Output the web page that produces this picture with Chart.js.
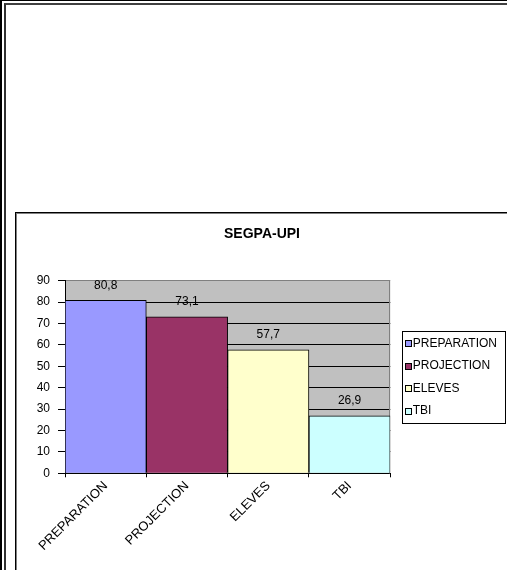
<!DOCTYPE html>
<html>
<head>
<meta charset="utf-8">
<script src="https://cdn.jsdelivr.net/npm/chart.js@4"></script>
<style>
  html, body { margin: 0; padding: 0; background: #fff; overflow: hidden; width: 507px; height: 570px; }
  .f { position: absolute; box-sizing: border-box; width: 700px; height: 700px; }
  #o1 { left: 0; top: 0; border-left: 2px solid #000; border-top: 1px solid #000; }
  #o2 { left: 4px; top: 3px; border-left: 2px solid #303030; border-top: 2px solid #404040; }
  #i1 { left: 15px; top: 212px; border-left: 1px solid #000; border-top: 1px solid #000; }
  #i2 { left: 16px; top: 213px; border-left: 1px solid #808080; border-top: 1px solid #808080; }
  #wrap { position: absolute; left: 17px; top: 215px; width: 490px; height: 355px; }
</style>
</head>
<body>
<div class="f" id="o1"></div>
<div class="f" id="o2"></div>
<div class="f" id="i1"></div>
<div class="f" id="i2"></div>
<div id="wrap"><canvas id="c"></canvas></div>
<script>
const categories = ['PREPARATION', 'PROJECTION', 'ELEVES', 'TBI'];
const values = [80.8, 73.1, 57.7, 26.9];
const barColors = ['#9999FF', '#993366', '#FFFFCC', '#CCFFFF'];
const yTicks = [0, 10, 20, 30, 40, 50, 60, 70, 80, 90];
const chartTitle = 'SEGPA-UPI';

const FONT = '"Liberation Sans", Arial, sans-serif';
const LEG_FONT = 12;
const LEG_BOX = 6;

const plotBg = {
  id: 'plotBg',
  beforeDraw(chart) {
    const a = chart.chartArea, ctx = chart.ctx;
    ctx.save();
    ctx.fillStyle = '#C0C0C0';
    ctx.fillRect(a.left, a.top, a.right - a.left, a.bottom - a.top);
    ctx.restore();
  },
  beforeDatasetsDraw(chart) {
    const a = chart.chartArea, ctx = chart.ctx;
    ctx.save();
    ctx.strokeStyle = '#808080';
    ctx.lineWidth = 1;
    ctx.beginPath();
    ctx.moveTo(Math.round(a.right) - 0.5, a.top);
    ctx.lineTo(Math.round(a.right) - 0.5, a.bottom);
    ctx.stroke();
    ctx.restore();
  }
};

const valueLabels = {
  id: 'valueLabels',
  afterDatasetsDraw(chart) {
    const ctx = chart.ctx;
    const meta = chart.getDatasetMeta(0);
    ctx.save();
    ctx.font = '12px ' + FONT;
    ctx.fillStyle = '#000';
    ctx.textAlign = 'center';
    ctx.textBaseline = 'middle';
    meta.data.forEach((bar, i) => {
      const txt = String(values[i]).replace('.', ',');
      ctx.fillText(txt, bar.x, bar.y - 15);
    });
    ctx.restore();
  }
};

const legendFrame = {
  id: 'legendFrame',
  afterDraw(chart) {
    const l = chart.legend;
    if (!l) return;
    const ctx = chart.ctx;
    const h = l.legendHitBoxes;
    if (!h || !h.length) return;
    const top = h[0].top - 6;
    const bottom = h[h.length - 1].top + h[h.length - 1].height + 6;
    ctx.save();
    ctx.strokeStyle = '#000';
    ctx.lineWidth = 1;
    ctx.strokeRect(Math.round(l.left + 12) + 0.5, Math.round(top) + 0.5, 103, Math.round(bottom - top));
    // legend swatches, placed just before each label's text
    h.forEach((hb, i) => {
      const textX = hb.left + LEG_BOX + LEG_FONT / 2;
      const cy = hb.top + hb.height / 2;
      const x0 = Math.round(textX - 8) + 0.5;
      const y0 = Math.round(cy - 3) + 0.5;
      ctx.fillStyle = barColors[i];
      ctx.fillRect(x0, y0, 6, 6);
      ctx.strokeRect(x0, y0, 6, 6);
    });
    ctx.restore();
  }
};

new Chart(document.getElementById('c'), {
  type: 'bar',
  data: {
    labels: categories,
    datasets: [{
      data: values,
      backgroundColor: barColors,
      borderColor: '#000',
      borderWidth: 1,
      barPercentage: 1,
      categoryPercentage: 1
    }]
  },
  options: {
    responsive: true,
    maintainAspectRatio: false,
    animation: false,
    layout: { padding: 0 },
    plugins: {
      title: {
        display: true,
        text: chartTitle,
        color: '#000',
        font: { family: FONT, size: 14, weight: 'bold', lineHeight: 1.2 },
        padding: { top: 10.6, bottom: 38.3 }
      },
      legend: {
        display: true,
        position: 'right',
        fullSize: false,
        align: 'center',
        labels: {
          color: '#000',
          font: { family: FONT, size: LEG_FONT },
          boxWidth: LEG_BOX,
          boxHeight: LEG_BOX,
          padding: 10.5,
          generateLabels() {
            return categories.map((c, i) => ({
              text: c,
              fillStyle: 'rgba(0,0,0,0)',
              strokeStyle: 'rgba(0,0,0,0)',
              lineWidth: 0,
              hidden: false,
              index: i
            }));
          }
        }
      },
      tooltip: { enabled: false }
    },
    scales: {
      x: {
        type: 'category',
        grid: { display: true, drawOnChartArea: false, drawTicks: true, tickLength: 4, color: '#000', offset: true },
        border: { display: true, color: '#000' },
        ticks: {
          color: '#000',
          font: { family: FONT, size: 13 },
          minRotation: 45,
          maxRotation: 45,
          autoSkip: false,
          padding: 1
        },
        afterFit(scale) { scale.height = 96.7; }
      },
      y: {
        min: 0,
        max: 90,
        afterBuildTicks(scale) { scale.ticks = yTicks.map(v => ({ value: v })); },
        grid: {
          color: ctx => (ctx.tick && ctx.tick.value === 90 ? '#808080' : '#000'),
          tickColor: '#000',
          drawTicks: true,
          tickLength: 7
        },
        border: { display: true, color: '#000' },
        ticks: {
          color: '#000',
          font: { family: FONT, size: 12 },
          padding: 8
        },
        afterFit(scale) { scale.width = 48; }
      }
    }
  },
  plugins: [plotBg, valueLabels, legendFrame]
});
</script>
</body>
</html>
